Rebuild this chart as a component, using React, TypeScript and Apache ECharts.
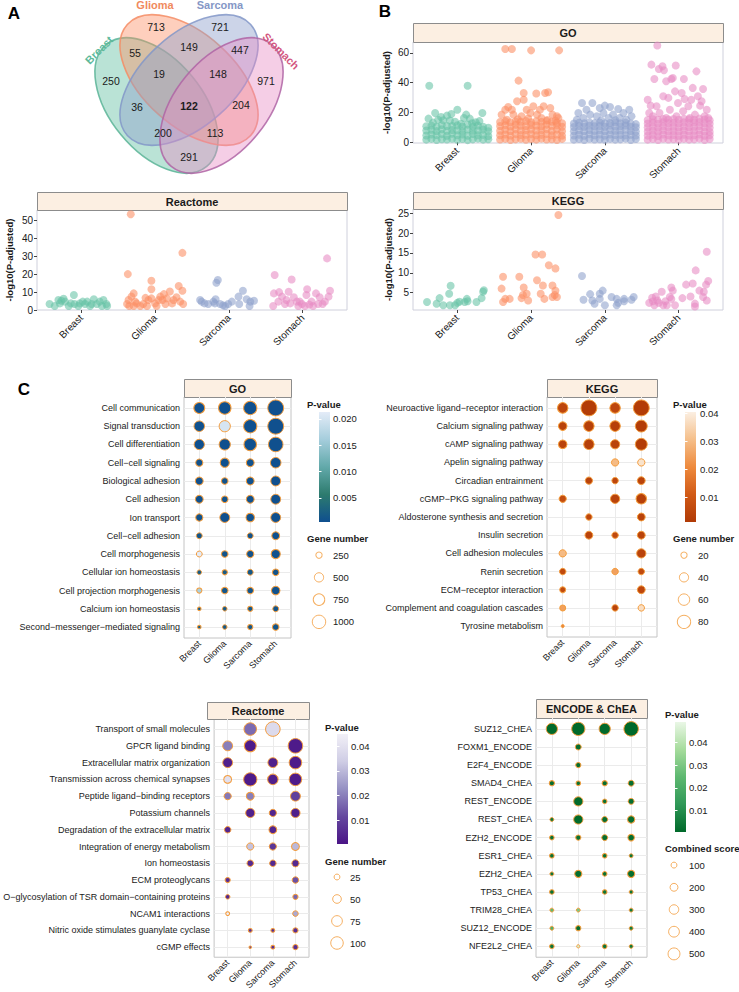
import React, { useEffect, useRef } from 'react';
import * as echarts from 'echarts';

const FONT = "'Liberation Sans', Arial, Helvetica, sans-serif";
const TXT = '#1a1a1a';
const RING = '#F39B3A';

const CANCERS = ['Breast', 'Glioma', 'Sarcoma', 'Stomach'];
const CANCER_COLORS = ['#66C2A5', '#FC8D62', '#8DA0CB', '#E78AC3'];

// ---------- Panel A: Venn region counts ----------
const VENN_COUNTS = [250, 713, 721, 971, 55, 149, 447, 291, 19, 148, 36, 204, 200, 113, 122];

// ---------- Panel A: Reactome jitter ([jitter offset, -log10 padj]) ----------
const reactBreast = [[-0.43,3.4],[-0.36,2.2],[-0.31,5.6],[-0.29,3.7],[-0.27,5.2],[-0.24,6.3],[-0.22,4.7],[-0.17,2.2],[-0.14,3.7],[-0.1,8.4],[-0.09,3.4],[-0.04,2.2],[-0.02,3.7],[0.02,4.7],[0.05,3.4],[0.08,4.7],[0.12,2.2],[0.14,3.4],[0.17,6.0],[0.21,3.4],[0.25,4.7],[0.28,2.2],[0.3,5.6],[0.34,3.4],[0.35,2.2]];
const reactGlioma = [[-0.33,53.6],[-0.37,20.1],[-0.05,16.4],[-0.05,11.6],[0.37,32.0],[0.32,13.4],[0.37,10.8],[0.2,10.4],[-0.29,9.3],[-0.32,7.5],[-0.36,5.6],[-0.38,3.4],[-0.35,2.2],[-0.25,3.7],[-0.2,2.2],[-0.16,3.4],[-0.09,5.6],[-0.05,6.5],[0,3.7],[0.05,5.6],[0.07,7.5],[0.1,5.6],[0.14,3.4],[0.16,6.5],[0.23,3.7],[0.25,5.6],[0.29,7.1],[0.34,4.7],[0.38,3.4],[-0.29,2.2],[-0.11,2.2],[0.02,2.2],[-0.27,4.7],[0.12,8.9],[-0.13,6.8]];
const reactSarcoma = [[-0.39,5.6],[-0.37,4.7],[-0.33,3.7],[-0.28,3.4],[-0.21,4.7],[-0.18,6.0],[-0.17,15.3],[-0.15,16.8],[-0.12,3.4],[-0.05,2.2],[-0.01,3.4],[0.04,4.7],[0.13,7.5],[0.19,10.8],[0.14,3.4],[0.24,6.0],[0.28,2.2],[0.29,4.7],[0.34,5.2],[-0.19,3.7],[-0.08,2.6]];
const reactStomach = [[-0.38,19.6],[-0.39,9.3],[-0.33,4.7],[-0.4,2.2],[-0.28,7.5],[-0.32,10.0],[-0.19,10.2],[-0.15,17.1],[-0.12,7.1],[-0.06,2.2],[-0.04,4.7],[0.06,11.6],[0.05,8.4],[0.12,4.7],[0.18,9.3],[0.23,7.1],[0.33,28.9],[0.37,10.8],[0.35,7.5],[0.27,3.4],[0.3,4.7],[-0.24,3.4],[-0.17,3.7],[-0.08,4.7],[-0.01,3.4],[0.03,2.2],[0.14,2.2],[0.21,3.4],[-0.22,5.6],[0.09,3.0]];

// ---------- Panel B: GO jitter (dense lower block: per column, values) ----------
const goBlockCols = [-0.42,-0.35,-0.28,-0.21,-0.14,-0.07,0,0.07,0.14,0.21,0.28,0.35,0.42];
const goBreastBlock = [[1.8,4.6,7.9,10.8],[2.3,5.2,8.4,11.2],[1.6,4.9,7.5,10.4],[2.1,5.5,8.8,11.6],[1.9,4.4,7.7,10.9],[2.4,5.8,8.3,11.0],[1.7,4.8,8.1,11.4],[2.2,5.3,7.6,10.6],[1.5,4.5,8.6,11.9],[2.0,5.6,7.8,10.7],[2.5,4.7,8.0,11.3],[1.8,5.0,8.5,10.5],[2.1,4.3,7.4,9.8]];
const goGliomaBlock = [[1.9,4.8,7.8,10.9,13.6],[2.3,5.3,8.4,11.5,14.2],[1.6,4.6,7.6,10.6,13.4],[2.0,5.5,8.7,11.8,14.0],[2.4,4.9,8.0,11.2,13.8],[1.7,5.1,8.2,11.0,14.3],[2.2,5.4,8.6,11.6,13.5],[1.8,4.7,7.9,11.3,14.1],[2.5,5.0,8.3,10.8,13.7],[1.9,5.6,8.8,11.9,14.4],[2.1,4.8,7.7,11.1,13.9],[1.6,5.2,8.5,11.4,13.3],[2.3,4.5,7.5,10.5,12.8]];
const goSarcomaBlock = [[1.8,4.6,7.4,10.3,12.6],[2.2,5.1,8.0,10.9,13.1],[1.6,4.4,7.6,10.5,12.8],[2.4,5.4,8.3,11.1,13.4],[1.9,4.8,7.7,10.7,12.9],[2.1,5.2,8.1,11.0,13.3],[1.7,4.5,7.5,10.4,12.7],[2.3,5.3,8.2,11.2,13.0],[1.8,4.9,7.8,10.6,13.5],[2.0,5.0,7.9,10.8,12.8],[2.5,4.7,8.4,11.3,13.2],[1.6,5.1,7.6,10.5,12.6],[2.2,4.6,7.3,10.1,12.2]];
const goStomachBlock = [[1.8,4.5,7.2,9.9,12.6,15.0],[2.2,5.0,7.8,10.5,13.2,15.5],[1.6,4.3,7.1,9.8,12.5,15.2],[2.4,5.2,8.0,10.8,13.5,15.7],[1.9,4.7,7.4,10.2,12.9,15.3],[2.1,4.9,7.6,10.4,13.1,15.6],[1.7,4.4,7.3,10.0,12.7,15.1],[2.3,5.1,7.9,10.6,13.4,15.8],[1.8,4.6,7.5,10.3,13.0,15.4],[2.0,4.8,7.7,10.5,13.3,15.2],[2.5,5.3,8.1,10.9,13.6,15.9],[1.6,4.4,7.2,10.1,12.8,15.3],[2.2,4.7,7.0,9.7,12.4,14.8]];
const goBreastTop = [[-0.38,38.0],[0.14,38.0],[-0.3,19.7],[0.34,19.7],[-0.39,15.9],[0.0,21.9],[-0.14,17.9],[-0.08,19.0],[-0.26,15.2],[0.09,16.3],[0.12,18.6],[0.17,15.9],[-0.22,17.0],[-0.19,14.8],[0.25,13.5],[-0.33,13.2],[0.3,14.2],[-0.03,13.8],[0.2,12.8],[-0.1,14.6],[0.05,12.5]];
const goGliomaTop = [[-0.35,62.6],[-0.26,62.6],[0.0,61.7],[0.38,61.7],[-0.17,41.4],[-0.1,33.1],[0.07,32.7],[0.19,33.1],[0.23,33.6],[-0.19,27.5],[-0.1,28.6],[0.03,24.2],[-0.4,18.6],[-0.35,21.9],[-0.31,23.7],[-0.26,21.9],[0.12,21.9],[0.17,24.2],[0.26,23.0],[0.29,18.6],[0.35,17.5],[0.37,16.3],[0.33,14.5],[-0.01,19.7],[-0.06,21.9],[-0.13,17.5],[-0.24,18.6],[0.08,18.6],[0.14,16.3],[-0.33,15.2],[-0.18,15.5],[0.22,15.0],[-0.04,16.0]];
const goSarcomaTop = [[-0.31,26.4],[-0.17,26.4],[0.0,24.6],[-0.07,23.0],[0.07,23.7],[0.18,22.4],[0.33,21.9],[-0.25,21.9],[-0.36,19.7],[-0.2,18.6],[-0.02,19.7],[0.11,18.6],[0.25,19.7],[0.36,17.5],[-0.29,16.3],[-0.11,17.5],[0.05,16.3],[0.2,16.3],[-0.38,15.2],[0.29,15.2],[-0.05,14.6],[0.14,14.8]];
const goStomachTop = [[-0.29,64.9],[-0.37,52.1],[-0.27,49.2],[-0.22,51.0],[-0.2,48.3],[-0.04,51.5],[0.24,47.6],[-0.33,42.5],[-0.17,41.0],[-0.1,42.5],[-0.08,43.2],[0.07,42.5],[0.19,36.5],[0.33,35.8],[-0.05,34.2],[0.04,33.1],[-0.21,30.9],[-0.14,29.8],[0.08,29.1],[0.26,30.9],[0.17,28.6],[-0.42,28.6],[-0.38,24.6],[0.38,21.9],[-0.3,24.2],[-0.01,26.4],[0.13,24.2],[0.29,24.6],[-0.26,19.7],[-0.12,21.9],[0.06,20.8],[0.22,18.6],[0.35,17.5],[-0.35,17.5],[-0.17,16.3],[-0.03,17.5],[0.15,16.3],[0.31,27.5],[0.4,16.3],[-0.4,19.7]];

// ---------- Panel B: KEGG jitter ----------
const keggBreast = [[-0.41,2.6],[-0.28,2.2],[-0.24,3.6],[-0.19,1.8],[-0.11,4.7],[-0.09,6.7],[-0.1,1.8],[-0.03,1.8],[0.0,2.4],[0.03,2.7],[0.1,2.6],[0.13,3.4],[0.14,2.8],[0.26,2.6],[0.33,3.6],[0.35,5.2],[0.36,5.6]];
const keggGlioma = [[-0.4,6.0],[-0.38,9.0],[-0.38,2.6],[-0.35,3.4],[-0.29,3.4],[-0.16,9.0],[-0.13,3.6],[-0.11,4.4],[-0.1,6.3],[-0.06,4.7],[-0.04,3.0],[0.06,14.6],[0.08,8.1],[0.13,4.7],[0.15,14.6],[0.16,6.8],[0.18,3.4],[0.24,11.9],[0.29,6.8],[0.33,11.1],[0.33,5.5],[0.32,4.4],[0.35,3.9],[0.37,24.6],[0.29,3.9]];
const keggSarcoma = [[-0.31,9.2],[-0.29,3.2],[-0.2,4.6],[-0.17,3.0],[-0.14,2.2],[-0.07,4.7],[-0.03,5.5],[-0.07,3.4],[0.0,1.8],[0.09,3.9],[0.16,1.8],[0.16,3.4],[0.18,2.4],[0.26,2.8],[0.26,3.4],[0.36,3.2],[0.39,3.9]];
const keggStomach = [[-0.4,2.4],[-0.36,3.7],[-0.35,2.8],[-0.33,1.8],[-0.31,4.0],[-0.29,3.0],[-0.27,2.4],[-0.23,5.2],[-0.21,1.8],[-0.18,2.8],[-0.16,1.8],[-0.12,3.9],[-0.1,3.4],[-0.1,6.3],[-0.08,5.5],[-0.05,1.8],[0.05,3.6],[0.1,7.0],[0.16,4.0],[0.19,7.3],[0.23,10.6],[0.22,2.2],[0.22,1.5],[0.28,5.5],[0.33,3.9],[0.34,5.2],[0.37,7.0],[0.4,7.9],[0.38,15.3],[0.38,3.0]];

// ---------- Panel C: GO dot plot ----------
const goTerms = ['Cell communication','Signal transduction','Cell differentiation','Cell\u2212cell signaling','Biological adhesion','Cell adhesion','Ion transport','Cell\u2212cell adhesion','Cell morphogenesis','Cellular ion homeostasis','Cell projection morphogenesis','Calcium ion homeostasis','Second\u2212messenger\u2212mediated signaling'];
const goGenes = [[675,875,970,1370],[630,710,970,1370],[600,710,875,1160],[316,490,370,630],[370,265,370,560],[370,265,370,560],[316,560,430,560],[220,null,220,370],[220,265,316,490],[140,178,220,265],[178,265,265,430],[93,140,178,220],[93,140,178,265]];
const goPvals = [[0.0005,0.0005,0.0005,0.0005],[0.0006,0.0201,0.0005,0.0005],[0.0005,0.0005,0.0005,0.0005],[0.0008,0.0006,0.0007,0.0005],[0.0006,0.0009,0.0006,0.0005],[0.0006,0.0009,0.0006,0.0005],[0.0008,0.0005,0.0006,0.0005],[0.0012,null,0.0009,0.0006],[0.0212,0.001,0.0008,0.0006],[0.002,0.0018,0.0015,0.001],[0.0165,0.0012,0.001,0.0007],[0.0018,0.0016,0.0013,0.0011],[0.0019,0.0016,0.0014,0.0011]];
const goSizeLegend = [250, 500, 750, 1000];
const goPTicks = [0.005, 0.01, 0.015, 0.02];

// ---------- Panel C: KEGG dot plot ----------
const keggTerms = ['Neuroactive ligand\u2212receptor interaction','Calcium signaling pathway','cAMP signaling pathway','Apelin signaling pathway','Circadian entrainment','cGMP\u2212PKG signaling pathway','Aldosterone synthesis and secretion','Insulin secretion','Cell adhesion molecules','Renin secretion','ECM\u2212receptor interaction','Complement and coagulation cascades','Tyrosine metabolism'];
const keggGenes = [[51,111,51,111],[35,51,51,64],[35,51,40,64],[null,null,26,26],[null,26,21,30],[26,null,40,51],[null,21,null,30],[null,30,21,30],[26,null,null,40],[21,null,21,21],[18,null,null,30],[18,null,21,21],[6,null,null,null]];
const keggPvals = [[0.005,0.002,0.005,0.002],[0.004,0.003,0.003,0.002],[0.004,0.003,0.004,0.002],[null,null,0.03,0.038],[null,0.004,0.005,0.004],[0.007,null,0.004,0.003],[null,0.005,null,0.004],[null,0.004,0.006,0.004],[0.03,null,null,0.004],[0.006,null,0.025,0.006],[0.006,null,null,0.005],[0.025,null,0.004,0.037],[0.02,null,null,null]];
const keggSizeLegend = [20, 40, 60, 80];
const keggPTicks = [0.01, 0.02, 0.03, 0.04];

// ---------- Panel C: Reactome dot plot ----------
const reactTerms = ['Transport of small molecules','GPCR ligand binding','Extracellular matrix organization','Transmission across chemical synapses','Peptide ligand\u2212binding receptors','Potassium channels','Degradation of the extracellular matrix','Integration of energy metabolism','Ion homeostasis','ECM proteoglycans','O\u2212glycosylation of TSR domain\u2212containing proteins','NCAM1 interactions','Nitric oxide stimulates guanylate cyclase','cGMP effects'];
const reactGenes = [[null,100,133,null],[64,91,null,133],[64,null,64,100],[42,111,72,100],[36,42,null,64],[null,56,36,56],[30,null,42,null],[null,36,36,42],[null,30,30,36],[20,null,null,30],[16,null,null,20],[12,null,null,23],[null,12,12,20],[null,6,12,20]];
const reactPvals = [[null,0.017,0.038,null],[0.02,0.002,null,0.002],[0.003,null,0.003,0.002],[0.04,0.002,0.003,0.002],[0.019,0.02,null,0.01],[null,0.003,0.004,0.003],[0.004,null,0.004,null],[null,0.032,0.008,0.03],[null,0.005,0.005,0.005],[0.006,null,null,0.013],[0.005,null,null,0.016],[0.044,null,null,0.027],[null,0.006,0.006,0.006],[null,0.008,0.006,0.006]];
const reactSizeLegend = [25, 50, 75, 100];
const reactPTicks = [0.01, 0.02, 0.03, 0.04];

// ---------- Panel C: ENCODE & ChEA dot plot ----------
const encTerms = ['SUZ12_CHEA','FOXM1_ENCODE','E2F4_ENCODE','SMAD4_CHEA','REST_ENCODE','REST_CHEA','EZH2_ENCODE','ESR1_CHEA','EZH2_CHEA','TP53_CHEA','TRIM28_CHEA','SUZ12_ENCODE','NFE2L2_CHEA'];
const encScores = [[438,628,438,770],[null,100,null,null],[null,73,null,null],[73,51,73,100],[null,282,51,100],[34,282,100,161],[51,73,100,128],[51,null,51,34],[34,161,51,161],[51,null,51,34],[34,34,null,34],[34,73,null,34],[51,20,51,34]];
const encPvals = [[0.0008,0.0007,0.0008,0.0007],[null,0.002,null,null],[null,0.002,null,null],[0.002,0.003,0.002,0.002],[null,0.001,0.003,0.002],[0.004,0.001,0.002,0.002],[0.003,0.003,0.002,0.002],[0.003,null,0.003,0.004],[0.004,0.002,0.003,0.002],[0.003,null,0.004,0.004],[0.025,0.03,null,0.005],[0.022,0.002,null,0.006],[0.004,0.045,0.004,0.005]];
const encSizeLegend = [100, 200, 300, 400, 500];
const encPTicks = [0.01, 0.02, 0.03, 0.04];

// colour scales (low p -> high p)
const GO_STOPS = ['#0f4f8f', '#2d7b6e', '#62a9aa', '#a5cddc', '#e4ecf8'];
const KEGG_STOPS = ['#b03a06', '#d15a17', '#ee8a3d', '#f5bf8a', '#fbefe2'];
const REACT_STOPS = ['#4a1486', '#65489f', '#9590c3', '#cfcde5', '#f2f0f7'];
const ENC_STOPS = ['#00692a', '#2f9857', '#5db870', '#a6dc9c', '#eaf7e6'];

const goSize = (n: number) => 0.45 * Math.sqrt(n) - 0.8;
const keggSize = (n: number) => 1.58 * Math.sqrt(n) - 0.8;
const reactSize = (n: number) => 1.33 * Math.sqrt(n) - 0.8;
const encSize = (n: number) => 1.85 + 0.485 * Math.sqrt(n) - 0.8;

function grad(stops: string[]) {
  const rev = stops.slice().reverse();
  return {
    type: 'linear', x: 0, y: 0, x2: 0, y2: 1,
    colorStops: rev.map((c, i) => ({ offset: i / (rev.length - 1), color: c })),
  };
}

function dotData(vals: (number | null)[][], pv: (number | null)[][]) {
  const out: number[][] = [];
  vals.forEach((row, r) => row.forEach((v, c) => {
    if (v != null) out.push([c + 1, r + 1, v, pv[r][c] as number]);
  }));
  return out;
}

function blockPts(block: number[][]) {
  const out: number[][] = [];
  block.forEach((col, i) => col.forEach((y) => out.push([goBlockCols[i], y])));
  return out;
}

function buildOption() {
  const grids: any[] = [
    { left: 37, top: 210, width: 310, height: 100 },
    { left: 413, top: 42, width: 310, height: 101 },
    { left: 413, top: 209, width: 310, height: 101 },
    { left: 184, top: 397, width: 107, height: 241 },
    { left: 547, top: 397, width: 110, height: 240 },
    { left: 207, top: 719, width: 102, height: 240 },
    { left: 536, top: 718, width: 111, height: 240 },
    { left: 319, top: 412, width: 11, height: 110 },
    { left: 685, top: 412, width: 11, height: 110 },
    { left: 337, top: 734, width: 11, height: 110 },
    { left: 675, top: 722, width: 11, height: 110 },
    { left: 312, top: 544, width: 14, height: 89 },
    { left: 677, top: 544, width: 14, height: 89 },
    { left: 330, top: 866, width: 14, height: 88 },
    { left: 667, top: 854, width: 14, height: 111 },
  ];
  grids.forEach((g, i) => {
    if (i <= 2) Object.assign(g, { show: true, borderColor: '#cfd0dc', borderWidth: 1 });
    else if (i <= 6) Object.assign(g, { show: true, borderColor: '#c4c4c4', borderWidth: 1 });
  });
  const stopsArr = [GO_STOPS, KEGG_STOPS, REACT_STOPS, ENC_STOPS];
  for (let k = 0; k < 4; k++) Object.assign(grids[7 + k], { show: true, borderWidth: 0, backgroundColor: grad(stopsArr[k]) });

  const xAxis: any[] = [];
  const yAxis: any[] = [];
  const catVals = [1, 2, 3, 4];

  const jitterY = [
    { min: 0, max: 56, ticks: [0, 10, 20, 30, 40, 50], gap: 23 },
    { min: -0.45, max: 67.3, ticks: [0, 20, 40, 60], gap: 22 },
    { min: 0.6, max: 26.1, ticks: [5, 10, 15, 20, 25], gap: 20 },
  ];
  jitterY.forEach((j, i) => {
    xAxis.push({
      gridIndex: i, type: 'value', min: 0.4, max: 4.6,
      axisLine: { show: false },
      axisTick: { show: true, length: 3, customValues: catVals, lineStyle: { color: '#444' } },
      axisLabel: { customValues: catVals, formatter: (v: number) => CANCERS[Math.round(v) - 1], rotate: 45, fontSize: 10, color: TXT, margin: 6, fontFamily: FONT },
      splitLine: { show: false },
    });
    yAxis.push({
      gridIndex: i, type: 'value', min: j.min, max: j.max,
      name: '-log10(P-adjusted)', nameLocation: 'middle', nameGap: j.gap, nameRotate: 90,
      nameTextStyle: { fontWeight: 'bold', fontSize: 9.5, color: TXT, fontFamily: FONT },
      axisLine: { show: false },
      axisTick: { show: true, length: 3, customValues: j.ticks, lineStyle: { color: '#444' } },
      axisLabel: { customValues: j.ticks, formatter: (v: number) => String(Math.round(v)), fontSize: 10, color: TXT, margin: 4, fontFamily: FONT },
      splitLine: { show: false },
    });
  });

  const termsArr = [goTerms, keggTerms, reactTerms, encTerms];
  termsArr.forEach((terms, k) => {
    const gi = 3 + k;
    const rows = terms.map((_, i) => i + 1);
    xAxis.push({
      gridIndex: gi, type: 'value', min: 0.4, max: 4.6,
      axisLine: { show: false },
      axisTick: { show: false, customValues: catVals },
      axisLabel: { customValues: catVals, formatter: (v: number) => CANCERS[Math.round(v) - 1], rotate: 45, fontSize: 9, color: TXT, margin: 4, fontFamily: FONT },
      splitLine: { show: true, lineStyle: { color: '#ebebeb', width: 1 } },
    });
    yAxis.push({
      gridIndex: gi, type: 'value', inverse: true, min: 0.4, max: terms.length + 0.6,
      axisLine: { show: false },
      axisTick: { show: false, customValues: rows },
      axisLabel: { customValues: rows, formatter: (v: number) => terms[Math.round(v) - 1], fontSize: 9, color: TXT, margin: 4, fontFamily: FONT },
      splitLine: { show: true, lineStyle: { color: '#ebebeb', width: 1 } },
    });
  });

  const cbRanges = [
    { min: 0.0004, max: 0.0213, ticks: goPTicks, dec: 3, margin: 3 },
    { min: 0.0012, max: 0.0405, ticks: keggPTicks, dec: 2, margin: 4 },
    { min: 0.0004, max: 0.045, ticks: reactPTicks, dec: 2, margin: 3 },
    { min: 0.0006, max: 0.049, ticks: encPTicks, dec: 2, margin: 3 },
  ];
  cbRanges.forEach((c, k) => {
    const gi = 7 + k;
    xAxis.push({ gridIndex: gi, type: 'value', show: false, min: 0, max: 1 });
    yAxis.push({
      gridIndex: gi, type: 'value', position: 'right', min: c.min, max: c.max,
      axisLine: { show: false },
      axisTick: { show: true, inside: true, length: 2.5, customValues: c.ticks, lineStyle: { color: '#ffffff', width: 1 } },
      axisLabel: { customValues: c.ticks, formatter: (v: number) => v.toFixed(c.dec), fontSize: 9.5, color: TXT, margin: c.margin, fontFamily: FONT },
      splitLine: { show: false },
    });
  });

  const sizeLegends = [goSizeLegend, keggSizeLegend, reactSizeLegend, encSizeLegend];
  const slMargins = [7, 7, 6, 8];
  sizeLegends.forEach((vals, k) => {
    const gi = 11 + k;
    xAxis.push({ gridIndex: gi, type: 'value', show: false, min: -1, max: 1 });
    yAxis.push({
      gridIndex: gi, type: 'category', inverse: true, position: 'right',
      data: vals.map(String),
      axisLine: { show: false }, axisTick: { show: false },
      axisLabel: { fontSize: 9.5, color: TXT, margin: slMargins[k], fontFamily: FONT },
      splitLine: { show: false },
    });
  });

  cbRanges.forEach((c, k) => {
    yAxis.push({
      gridIndex: 7 + k, type: 'value', position: 'left', min: c.min, max: c.max,
      axisLine: { show: false },
      axisTick: { show: true, inside: true, length: 2.5, customValues: c.ticks, lineStyle: { color: '#ffffff', width: 1 } },
      axisLabel: { show: false },
      splitLine: { show: false },
    });
  });

  const series: any[] = [];
  const jitterSets = [
    [reactBreast, reactGlioma, reactSarcoma, reactStomach],
    [
      blockPts(goBreastBlock).concat(goBreastTop),
      blockPts(goGliomaBlock).concat(goGliomaTop),
      blockPts(goSarcomaBlock).concat(goSarcomaTop),
      blockPts(goStomachBlock).concat(goStomachTop),
    ],
    [keggBreast, keggGlioma, keggSarcoma, keggStomach],
  ];
  jitterSets.forEach((groups, gi) => {
    groups.forEach((pts, ci) => {
      series.push({
        type: 'scatter', xAxisIndex: gi, yAxisIndex: gi, silent: true,
        symbol: 'circle', symbolSize: 8,
        itemStyle: { color: CANCER_COLORS[ci], opacity: 0.58 },
        data: pts.map(([dx, y]) => [ci + 1 + dx, y]),
      });
    });
  });

  const dotSets = [
    { d: dotData(goGenes, goPvals), f: goSize },
    { d: dotData(keggGenes, keggPvals), f: keggSize },
    { d: dotData(reactGenes, reactPvals), f: reactSize },
    { d: dotData(encScores, encPvals), f: encSize },
  ];
  const dotSeriesStart = series.length;
  dotSets.forEach((s, k) => {
    series.push({
      type: 'scatter', xAxisIndex: 3 + k, yAxisIndex: 3 + k, silent: true,
      symbol: 'circle', symbolSize: (v: number[]) => s.f(v[2]),
      itemStyle: { borderColor: RING, borderWidth: 1, opacity: 1 },
      data: s.d,
    });
  });
  sizeLegends.forEach((vals, k) => {
    const f = dotSets[k].f;
    series.push({
      type: 'scatter', xAxisIndex: 11 + k, yAxisIndex: 11 + k, silent: true,
      symbol: 'circle', symbolSize: (v: number[]) => f(v[2]),
      itemStyle: { color: '#ffffff', borderColor: RING, borderWidth: 1 },
      data: vals.map((v, i) => [0, i, v]),
    });
  });

  const visualMap = cbRanges.map((c, k) => ({
    type: 'continuous', show: false, seriesIndex: dotSeriesStart + k, dimension: 3,
    min: c.min, max: c.max, inRange: { color: stopsArr[k] },
  }));

  const graphic: any[] = [];
  const txt = (text: string, x: number, y: number, o: any = {}) => ({
    type: 'text', x, y, rotation: o.rotation || 0, silent: true,
    style: {
      text, fill: o.fill || TXT, align: o.align || 'center', verticalAlign: 'middle',
      font: `${o.weight || 'normal'} ${o.size || 10}px ${FONT}`,
    },
  });
  const deg = Math.PI / 180;
  const ellipses = [
    { c: [156.5, 105.5], rx: 79, ry: 46, rot: -50.5 * deg, fill: 'rgba(102,194,165,0.45)', stroke: 'rgba(90,180,150,0.85)' },
    { c: [189, 80], rx: 83, ry: 46, rot: -42 * deg, fill: 'rgba(252,141,98,0.42)', stroke: 'rgba(245,140,100,0.85)' },
    { c: [189, 80], rx: 83, ry: 46, rot: 42 * deg, fill: 'rgba(141,160,203,0.45)', stroke: 'rgba(130,150,200,0.85)' },
    { c: [221.5, 105.5], rx: 79, ry: 46, rot: 50.5 * deg, fill: 'rgba(231,138,195,0.42)', stroke: 'rgba(175,100,165,0.85)' },
  ];
  ellipses.forEach((p) => graphic.push({
    type: 'ellipse', x: p.c[0], y: p.c[1], rotation: p.rot, silent: true,
    shape: { cx: 0, cy: 0, rx: p.rx, ry: p.ry },
    style: { fill: p.fill, stroke: p.stroke, lineWidth: 1.6 },
  }));
  const vennPos = [[111,81],[156,27],[220,27],[266,81],[135,53],[189,47],[240,50],[189,157],[159,74],[218,74],[137,107],[241,105],[163,133],[215,133],[189,106]];
  VENN_COUNTS.forEach((n, i) => graphic.push(txt(String(n), vennPos[i][0], vennPos[i][1], { size: 10.5, weight: n === 122 ? 'bold' : 'normal' })));
  graphic.push(txt('Breast', 99, 50, { rotation: Math.PI / 4, fill: '#5DB99A', weight: 'bold', size: 11 }));
  graphic.push(txt('Glioma', 155, 5, { fill: '#F08A5E', weight: 'bold', size: 11 }));
  graphic.push(txt('Sarcoma', 220, 5, { fill: '#8597C6', weight: 'bold', size: 11 }));
  graphic.push(txt('Stomach', 281, 51, { rotation: -Math.PI / 4, fill: '#D3577F', weight: 'bold', size: 11 }));

  graphic.push(txt('A', 14, 13, { weight: 'bold', size: 17, fill: '#000' }));
  graphic.push(txt('B', 385, 11, { weight: 'bold', size: 17, fill: '#000' }));
  graphic.push(txt('C', 24, 389, { weight: 'bold', size: 17, fill: '#000' }));

  const headers = [
    { t: 'Reactome', x: 37, y: 192, w: 310, h: 18 },
    { t: 'GO', x: 413, y: 23, w: 310, h: 19 },
    { t: 'KEGG', x: 413, y: 192, w: 310, h: 17 },
    { t: 'GO', x: 184, y: 379, w: 107, h: 18 },
    { t: 'KEGG', x: 547, y: 379, w: 110, h: 18 },
    { t: 'Reactome', x: 207, y: 702, w: 102, h: 17 },
    { t: 'ENCODE & ChEA', x: 536, y: 699, w: 111, h: 19 },
  ];
  headers.forEach((h) => {
    graphic.push({ type: 'rect', silent: true, shape: { x: h.x + 0.5, y: h.y + 0.5, width: h.w, height: h.h }, style: { fill: '#fcefe2', stroke: '#8c8c8c', lineWidth: 1 } });
    graphic.push(txt(h.t, h.x + h.w / 2, h.y + h.h / 2 + 0.5, { weight: 'bold', size: 11 }));
  });

  const legTitles = [
    ['P-value', 307, 404], ['Gene number', 307, 538],
    ['P-value', 673, 404], ['Gene number', 673, 538],
    ['P-value', 325, 727], ['Gene number', 325, 861],
    ['P-value', 665, 714], ['Combined score', 665, 848],
  ];
  legTitles.forEach(([t, x, y]) => graphic.push(txt(t as string, x as number, y as number, { align: 'left', weight: 'bold', size: 9.5 })));

  return {
    animation: false,
    textStyle: { fontFamily: FONT },
    grid: grids,
    xAxis, yAxis, series, visualMap, graphic,
  };
}

export default function App() {
  const ref = useRef<HTMLDivElement>(null);
  useEffect(() => {
    if (!ref.current) return;
    const chart = echarts.init(ref.current, null, { renderer: 'svg' });
    chart.setOption(buildOption() as any);
    return () => chart.dispose();
  }, []);
  return (
    <div
      ref={ref}
      style={{ position: 'absolute', left: 0, top: 0, width: 739, height: 992, background: '#ffffff' }}
    />
  );
}
